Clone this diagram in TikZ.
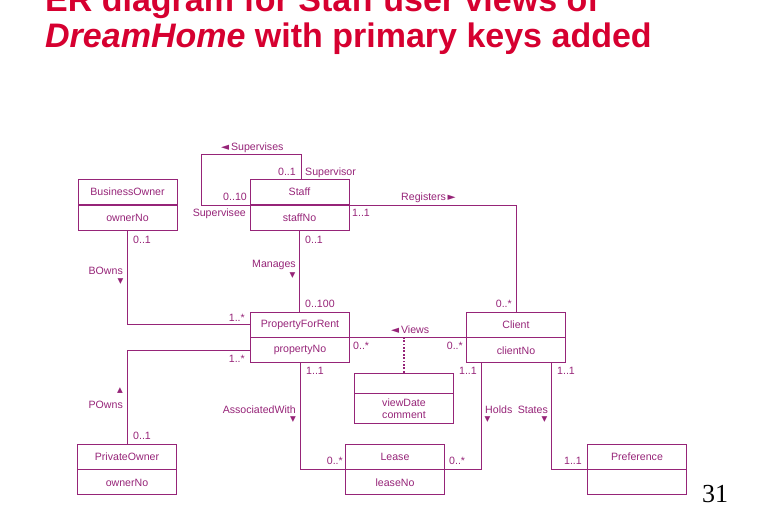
\documentclass[tikz,border=0pt]{standalone}
\usepackage{fontspec}
\setmainfont{Liberation Sans}
\newfontfamily\symfont{DejaVu Sans}
\newfontfamily\pagefont{Liberation Serif}
\usetikzlibrary{positioning}
\definecolor{erpurple}{RGB}{150,36,120}
\definecolor{ertitle}{RGB}{214,0,48}
\newcommand{\ptrleft}{{\symfont\fontsize{10.5}{10.5}\selectfont ◄}}
\newcommand{\ptrright}{{\symfont\fontsize{10.5}{10.5}\selectfont ►}}

\begin{document}
\begin{tikzpicture}[x=1pt, y=-1pt,
  ent/.style={rectangle, draw=erpurple, line width=0.9pt, minimum width=99pt, minimum height=25pt, inner sep=0pt, text=erpurple, font=\fontsize{10.6}{12}\selectfont},
  lbl/.style={text=erpurple, inner sep=0pt, font=\fontsize{10.6}{12}\selectfont},
  tri/.style={text=erpurple, inner sep=0pt, font=\symfont\fontsize{7.5}{7.5}\selectfont},
  rel/.style={draw=erpurple, line width=0.8pt},
  ttl/.style={anchor=base west, inner sep=0pt, text=ertitle, font=\fontsize{34}{36}\selectfont\bfseries}
]
\useasboundingbox (0,0) rectangle (770,522);
\clip (0,0) rectangle (770,522);

% title
\node[ttl] (title1) at (45,12) {ER diagram for Staff user views of};
\node[ttl] (title2) at (45,47) {\itshape DreamHome\upshape{} with primary keys added};

% entities
\node[ent] (bown) at (127.5,192) {BusinessOwner};
\node[ent, below=0pt of bown] (bownkey) {ownerNo};
\node[ent] (staff) at (299.5,192) {Staff};
\node[ent, below=0pt of staff] (staffkey) {staffNo};
\node[ent] (pfr) at (300,324.5) {PropertyForRent};
\node[ent, below=0pt of pfr] (pfrkey) {propertyNo};
\node[ent] (client) at (516,324.5) {Client};
\node[ent, below=0pt of client] (clientkey) {clientNo};
\node[ent, minimum height=20pt] (views) at (404,383) {};
\node[ent, minimum height=30pt, below=0pt of views, align=center] (viewskey) {viewDate\\comment};
\node[ent] (pown) at (127,456.5) {PrivateOwner};
\node[ent, below=0pt of pown] (pownkey) {ownerNo};
\node[ent] (lease) at (395,456.5) {Lease};
\node[ent, below=0pt of lease] (leasekey) {leaseNo};
\node[ent] (pref) at (637,456.5) {Preference};
\node[ent, below=0pt of pref] (prefkey) {};

% relationships
\coordinate (suptop) at (201,154);
\draw[rel] (staff.south west) -| (suptop) -| ([xshift=1.5pt]staff.north);
\draw[rel] (staff.south east) -| (client.north);
\draw[rel] (staffkey.south) -- (staffkey.south |- pfr.north);
\draw[rel] (bownkey.south) |- (pfr.west);
\draw[rel] (pfrkey.west) -| (pown.north);
\draw[rel] (pfr.south east) -- (client.south west);
\draw[erpurple, line width=1.3pt, dash pattern=on 1.8pt off 1.6pt] (views.north) -- (views.north |- pfr.south east);
\draw[rel] (pfrkey.south) |- (lease.south west);
\draw[rel] ([xshift=-35pt]clientkey.south) |- (lease.south east);
\draw[rel] ([xshift=35pt]clientkey.south) |- (pref.south west);

% labels
\node[lbl, anchor=base west] (lsup) at (221,150) {\ptrleft\,Supervises};
\node[lbl, anchor=base east] (msupr) at (296,175) {0..1};
\node[lbl, anchor=base west] (lsupr) at (305,175) {Supervisor};
\node[lbl, anchor=base east] (msupe) at (247,200) {0..10};
\node[lbl, anchor=base east] (lsupe) at (246,216) {Supervisee};
\node[lbl, anchor=base west] (mregs) at (352,216) {1..1};
\node[lbl, anchor=base west] (lregs) at (401,200) {Registers\,\ptrright};
\node[lbl, anchor=base east] (mregc) at (512,307) {0..*};
\node[lbl, anchor=base west] (mbown) at (133,243) {0..1};
\node[lbl, anchor=base east] (lbown) at (123,274) {BOwns};
\node[tri] (tbown) at (120.5,282) {▼};
\node[lbl, anchor=base west] (mmans) at (305,243) {0..1};
\node[lbl, anchor=base east] (lmans) at (296,267) {Manages};
\node[tri] (tmans) at (292.5,276) {▼};
\node[lbl, anchor=base west] (mmanp) at (305,307) {0..100};
\node[lbl, anchor=base east] (mbownp) at (245,321) {1..*};
\node[lbl, anchor=base east] (mpownp) at (245,362) {1..*};
\node[tri] (tpown) at (120,391) {▲};
\node[lbl, anchor=base east] (lpown) at (123,408) {POwns};
\node[lbl, anchor=base west] (mpown) at (133,439) {0..1};
\node[lbl, anchor=base west] (lviews) at (391,333) {\ptrleft\,Views};
\node[lbl, anchor=base west] (mviewp) at (353,349) {0..*};
\node[lbl, anchor=base east] (mviewc) at (463,349) {0..*};
\node[lbl, anchor=base west] (massp) at (306,374) {1..1};
\node[lbl, anchor=base east] (lass) at (296,413) {AssociatedWith};
\node[tri] (tass) at (293,420) {▼};
\node[lbl, anchor=base east] (massl) at (343,464) {0..*};
\node[lbl, anchor=base east] (mholdc) at (477,374) {1..1};
\node[lbl, anchor=base west] (lhold) at (485,413) {Holds};
\node[tri] (thold) at (487.5,420) {▼};
\node[lbl, anchor=base west] (mholdl) at (449,464) {0..*};
\node[lbl, anchor=base west] (mstatc) at (557,374) {1..1};
\node[lbl, anchor=base east] (lstat) at (548,413) {States};
\node[tri] (tstat) at (544.5,420) {▼};
\node[lbl, anchor=base east] (mstatp) at (582,464) {1..1};

% page number
\node[anchor=base west, inner sep=0pt, font=\pagefont\fontsize{26}{28}\selectfont] (pageno) at (702,502) {31};
\end{tikzpicture}
\end{document}
